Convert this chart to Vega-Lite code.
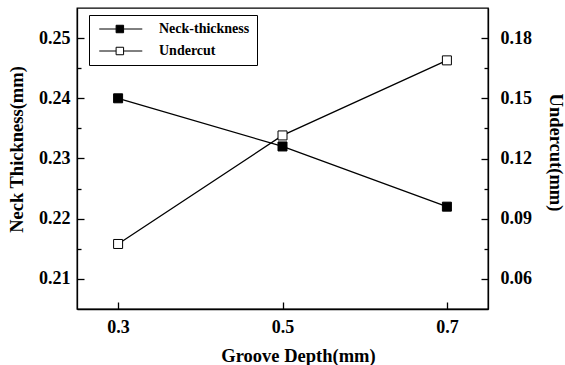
{
  "$schema": "https://vega.github.io/schema/vega-lite/v6.json",
  "width": 411,
  "height": 301,
  "autosize": {"type": "none"},
  "padding": {"left": 77, "top": 8, "right": 77, "bottom": 56},
  "background": "white",
  "config": {
    "view": {"stroke": "black", "strokeWidth": 1.3},
    "axis": {
      "domainColor": "black", "domainWidth": 1.3,
      "tickColor": "black", "tickWidth": 1.3,
      "labelColor": "black", "titleColor": "black",
      "labelFont": "Liberation Serif", "titleFont": "Liberation Serif",
      "labelFontWeight": "bold", "titleFontWeight": "bold",
      "labelFontSize": 18, "titleFontSize": 18.5,
      "grid": false
    }
  },
  "data": {
    "values": [
      {"depth": 0.3, "series": "Neck-thickness", "value": 0.240},
      {"depth": 0.5, "series": "Neck-thickness", "value": 0.232},
      {"depth": 0.7, "series": "Neck-thickness", "value": 0.222},
      {"depth": 0.3, "series": "Undercut", "value": 0.0774},
      {"depth": 0.5, "series": "Undercut", "value": 0.1315},
      {"depth": 0.7, "series": "Undercut", "value": 0.1689}
    ]
  },
  "encoding": {
    "x": {
      "field": "depth", "type": "quantitative",
      "scale": {"domain": [0.25, 0.75]},
      "axis": {"values": [0.3, 0.5, 0.7], "format": ".1f", "tickSize": -7, "labelPadding": 16, "title": "Groove Depth(mm)", "titlePadding": 10, "titleX": 221}
    }
  },
  "layer": [
    {
      "transform": [{"filter": "datum.series == 'Neck-thickness'"}],
      "encoding": {
        "y": {
          "field": "value", "type": "quantitative",
          "scale": {"domain": [0.205, 0.255]},
          "axis": {
            "orient": "left",
            "title": "Neck Thickness(mm)",
            "values": [0.21, 0.215, 0.22, 0.225, 0.23, 0.235, 0.24, 0.245, 0.25],
            "labelExpr": "round(datum.value*1000) % 10 == 0 ? format(datum.value, '.2f') : ''",
            "tickSize": {"condition": {"test": "round(datum.value*1000) % 10 == 0", "value": -7}, "value": -4},
            "labelPadding": 14,
            "titlePadding": 12,
            "titleY": 141
          }
        }
      },
      "layer": [
        {"mark": {"type": "line", "color": "black", "strokeWidth": 1.3}},
        {
          "mark": {"type": "point", "shape": "square", "size": 81, "filled": true, "stroke": "black", "strokeWidth": 1, "opacity": 1},
          "encoding": {
            "fill": {
              "field": "series", "type": "nominal",
              "scale": {"domain": ["Neck-thickness", "Undercut"], "range": ["black", "white"]},
              "legend": {
                "title": null,
                "orient": "none", "legendX": 12, "legendY": 7,
                "strokeColor": "black", "fillColor": "white",
                "padding": 7,
                "labelFont": "Liberation Serif", "labelFontWeight": "bold", "labelFontSize": 14, "labelColor": "black",
                "symbolType": "M-1,0H3.5M5.5,0H10.5M3.5,-1H5.5V1H3.5Z",
                "symbolSize": 56, "symbolStrokeColor": "black", "symbolStrokeWidth": 1,
                "labelOffset": 49,
                "rowPadding": 8
              }
            }
          }
        }
      ]
    },
    {
      "transform": [{"filter": "datum.series == 'Undercut'"}],
      "encoding": {
        "y": {
          "field": "value", "type": "quantitative",
          "scale": {"domain": [0.045, 0.195]},
          "axis": {
            "orient": "right",
            "title": "Undercut(mm)",
            "values": [0.06, 0.075, 0.09, 0.105, 0.12, 0.135, 0.15, 0.165, 0.18],
            "labelExpr": "round(datum.value*1000) % 30 == 0 ? format(datum.value, '.2f') : ''",
            "tickSize": {"condition": {"test": "round(datum.value*1000) % 30 == 0", "value": -7}, "value": -4},
            "labelPadding": 19,
            "titlePadding": 14,
            "titleY": 144
          }
        }
      },
      "layer": [
        {"mark": {"type": "line", "color": "black", "strokeWidth": 1.3}},
        {
          "mark": {"type": "point", "shape": "square", "size": 81, "filled": true, "stroke": "black", "strokeWidth": 1, "opacity": 1},
          "encoding": {
            "fill": {"field": "series", "type": "nominal"}
          }
        }
      ]
    }
  ],
  "resolve": {"scale": {"y": "independent"}}
}
